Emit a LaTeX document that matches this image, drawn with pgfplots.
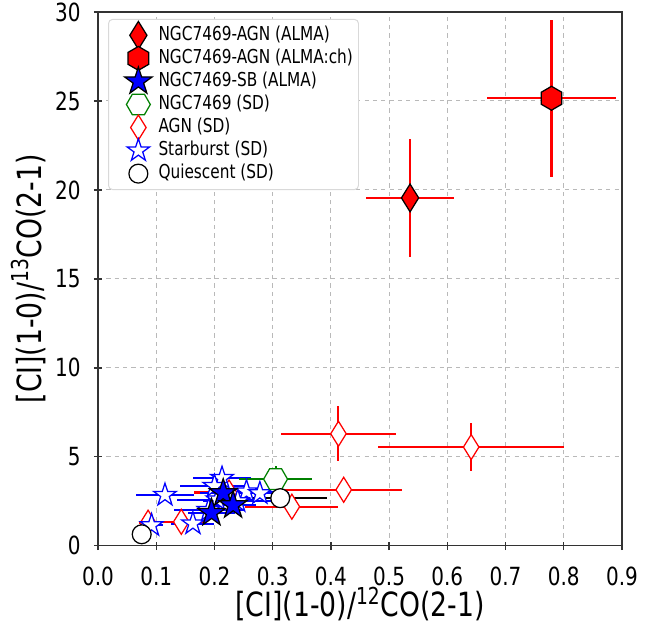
\documentclass[border=0pt]{standalone}
\usepackage{fontspec}
\setmainfont{DejaVu Sans}[FakeStretch=0.8]
\usepackage{pgfplots}
\pgfplotsset{compat=1.18}
\usepackage{pgfplotstable}
\definecolor{mgreen}{rgb}{0,0.5,0}

\pgfdeclareplotmark{hexv}{%
  \pgfpathmoveto{\pgfpointpolar{90}{\pgfplotmarksize}}%
  \pgfpathlineto{\pgfpointpolar{150}{\pgfplotmarksize}}%
  \pgfpathlineto{\pgfpointpolar{210}{\pgfplotmarksize}}%
  \pgfpathlineto{\pgfpointpolar{270}{\pgfplotmarksize}}%
  \pgfpathlineto{\pgfpointpolar{330}{\pgfplotmarksize}}%
  \pgfpathlineto{\pgfpointpolar{30}{\pgfplotmarksize}}%
  \pgfpathclose\pgfusepathqfillstroke}
\pgfdeclareplotmark{hexh}{%
  \pgfpathmoveto{\pgfpointpolar{0}{\pgfplotmarksize}}%
  \pgfpathlineto{\pgfpointpolar{60}{\pgfplotmarksize}}%
  \pgfpathlineto{\pgfpointpolar{120}{\pgfplotmarksize}}%
  \pgfpathlineto{\pgfpointpolar{180}{\pgfplotmarksize}}%
  \pgfpathlineto{\pgfpointpolar{240}{\pgfplotmarksize}}%
  \pgfpathlineto{\pgfpointpolar{300}{\pgfplotmarksize}}%
  \pgfpathclose\pgfusepathqfillstroke}
\pgfdeclareplotmark{fstar}{%
  \pgfpathmoveto{\pgfpointpolar{90}{\pgfplotmarksize}}%
  \pgfpathlineto{\pgfpointpolar{126}{0.382\pgfplotmarksize}}%
  \pgfpathlineto{\pgfpointpolar{162}{\pgfplotmarksize}}%
  \pgfpathlineto{\pgfpointpolar{198}{0.382\pgfplotmarksize}}%
  \pgfpathlineto{\pgfpointpolar{234}{\pgfplotmarksize}}%
  \pgfpathlineto{\pgfpointpolar{270}{0.382\pgfplotmarksize}}%
  \pgfpathlineto{\pgfpointpolar{306}{\pgfplotmarksize}}%
  \pgfpathlineto{\pgfpointpolar{342}{0.382\pgfplotmarksize}}%
  \pgfpathlineto{\pgfpointpolar{18}{\pgfplotmarksize}}%
  \pgfpathlineto{\pgfpointpolar{54}{0.382\pgfplotmarksize}}%
  \pgfpathclose\pgfusepathqfillstroke}
\pgfdeclareplotmark{tdiamond}{%
  \pgfpathmoveto{\pgfqpoint{0pt}{\pgfplotmarksize}}%
  \pgfpathlineto{\pgfqpoint{0.62\pgfplotmarksize}{0pt}}%
  \pgfpathlineto{\pgfqpoint{0pt}{-\pgfplotmarksize}}%
  \pgfpathlineto{\pgfqpoint{-0.62\pgfplotmarksize}{0pt}}%
  \pgfpathclose\pgfusepathqfillstroke}

\pgfplotsset{
  xerr/.style={forget plot, only marks, mark=none,
    error bars/.cd, x dir=both, x explicit, error mark=none,
    error bar style={#1, line width=1.5pt, solid}},
  yerr/.style={forget plot, only marks, mark=none,
    error bars/.cd, y dir=both, y explicit, error mark=none,
    error bar style={#1, line width=1.5pt, solid}},
}

% x y ex ey
\pgfplotstableread{
x y ex ey
0.536 19.55 0.075 3.30
}\agnalma
\pgfplotstableread{
x y ex ey
0.779 25.15 0.110 4.42
}\agnalmach
\pgfplotstableread{
x y ex ey
0.215 2.96 0.040 0.30
0.232 2.28 0.040 0.30
0.195 1.85 0.040 0.30
}\sbalma
\pgfplotstableread{
x y ex ey
0.305 3.75 0.063 0.75
}\ngcsd
\pgfplotstableread{
x y ex ey
0.413 6.30 0.099 1.55
0.641 5.55 0.160 1.37
0.422 3.15 0.100 0.30
0.333 2.20 0.080 0.30
0.143 1.35 0.040 0.20
0.086 1.30 0.015 0.20
0.225 3.00 0.060 0.30
}\agnsd
\pgfplotstableread{
x y ex ey
0.115 2.85 0.049 0.20
0.163 1.25 0.037 0.20
0.092 1.15 0.020 0.20
0.213 3.80 0.050 0.40
0.255 3.05 0.060 0.20
0.278 2.95 0.050 0.20
0.205 2.60 0.070 0.20
0.200 3.35 0.060 0.20
0.240 2.50 0.060 0.20
0.190 2.00 0.060 0.20
}\sbsd
\pgfplotstableread{
x y ex ey
0.075 0.65 0.000 0.00
0.313 2.68 0.080 0.20
}\qsd

\begin{document}
\begin{tikzpicture}
\begin{axis}[
  name=ax,
  scale only axis,
  width=377.3pt, height=384.5pt,
  xmin=0, xmax=0.9, ymin=0, ymax=30,
  xtick={0,0.1,0.2,0.3,0.4,0.5,0.6,0.7,0.8,0.9},
  ytick={0,5,10,15,20,25,30},
  xticklabel style={/pgf/number format/.cd, fixed, fixed zerofill, precision=1},
  /pgf/number format/assume math mode=true,
  ticklabel style={font=\fontsize{18}{20}\selectfont},
  xticklabel shift=8.6pt,
  yticklabel shift=6pt,
  grid=major,
  grid style={dashed, gray!55, line width=0.6pt},
  axis line style={black!80, line width=0.9pt},
  tick style={black!80, line width=0.9pt},
  tick align=center,
  major tick length=6pt,
  tick pos=left,
  xlabel={[CI](1-0)/\textsuperscript{12}CO(2-1)},
  ylabel={[CI](1-0)/\textsuperscript{13}CO(2-1)},
  label style={font=\fontsize{24}{28}\selectfont},
  xlabel style={yshift=6pt},
  legend image code/.code={%
    \pgfpathrectangle{\pgfqpoint{-12pt}{-5pt}}{\pgfqpoint{24pt}{10pt}}\pgfusepath{use as bounding box}%
    \draw[#1, overlay] plot coordinates {(5.5pt,0pt)};},
  legend cell align=left,
  legend style={at={(0,1)}, anchor=north west, xshift=7.2pt, yshift=-5pt,
    draw=black!15, rounded corners=3pt, fill=white, line width=0.7pt,
    font=\fontsize{13.8}{16}\selectfont, row sep=3.6pt, inner xsep=4pt, inner ysep=5pt,
    nodes={inner sep=0pt, text height=10pt, text depth=3pt},
    /tikz/every odd column/.append style={column sep=8pt}},
]
% legend entries
\addlegendimage{only marks, mark=tdiamond, mark size=10pt, fill=red, draw=black, line width=0.9pt}
\addlegendentry{NGC7469-AGN (ALMA)}
\addlegendimage{only marks, mark=hexv, mark size=8.6pt, fill=red, draw=black, line width=0.9pt}
\addlegendentry{NGC7469-AGN (ALMA:ch)}
\addlegendimage{only marks, mark=fstar, mark size=10.4pt, fill=blue, draw=black, line width=0.9pt}
\addlegendentry{NGC7469-SB (ALMA)}
\addlegendimage{only marks, mark=hexh, mark size=8.6pt, fill=white, draw=mgreen, line width=0.9pt}
\addlegendentry{NGC7469 (SD)}
\addlegendimage{only marks, mark=tdiamond, mark size=9pt, fill=white, draw=red, line width=0.9pt}
\addlegendentry{AGN (SD)}
\addlegendimage{only marks, mark=fstar, mark size=8.6pt, fill=white, draw=blue, line width=0.9pt}
\addlegendentry{Starburst (SD)}
\addlegendimage{only marks, mark=*, mark size=6.8pt, fill=white, draw=black, line width=0.9pt}
\addlegendentry{Quiescent (SD)}

% AGN (SD)
\addplot[xerr=red] table[x=x, y=y, x error=ex]{\agnsd};
\addplot[yerr=red] table[x=x, y=y, y error=ey]{\agnsd};
\addplot[forget plot, only marks, mark=tdiamond, mark size=9pt, fill=white, draw=red, line width=0.9pt] table[x=x, y=y]{\agnsd};
% Starburst (SD)
\addplot[xerr=blue] table[x=x, y=y, x error=ex]{\sbsd};
\addplot[yerr=blue] table[x=x, y=y, y error=ey]{\sbsd};
\addplot[forget plot, only marks, mark=fstar, mark size=8.6pt, fill=white, draw=blue, line width=0.9pt] table[x=x, y=y]{\sbsd};
% NGC7469 (SD)
\addplot[xerr=mgreen] table[x=x, y=y, x error=ex]{\ngcsd};
\addplot[yerr=mgreen] table[x=x, y=y, y error=ey]{\ngcsd};
\addplot[forget plot, only marks, mark=hexh, mark size=8.6pt, fill=white, draw=mgreen, line width=0.9pt] table[x=x, y=y]{\ngcsd};
% Quiescent (SD)
\addplot[xerr=black] table[x=x, y=y, x error=ex]{\qsd};
\addplot[forget plot, only marks, mark=*, mark size=6.8pt, fill=white, draw=black, line width=0.9pt] table[x=x, y=y]{\qsd};
% NGC7469-SB (ALMA)
\addplot[xerr=blue] table[x=x, y=y, x error=ex]{\sbalma};
\addplot[yerr=blue] table[x=x, y=y, y error=ey]{\sbalma};
\addplot[forget plot, only marks, mark=fstar, mark size=10.4pt, fill=blue, draw=black, line width=0.9pt] table[x=x, y=y]{\sbalma};
% NGC7469-AGN (ALMA)
\addplot[xerr=red] table[x=x, y=y, x error=ex]{\agnalma};
\addplot[yerr=red] table[x=x, y=y, y error=ey]{\agnalma};
\addplot[forget plot, only marks, mark=tdiamond, mark size=10pt, fill=red, draw=black, line width=0.9pt] table[x=x, y=y]{\agnalma};
% NGC7469-AGN (ALMA:ch)
\addplot[xerr=red] table[x=x, y=y, x error=ex]{\agnalmach};
\addplot[yerr=red] table[x=x, y=y, y error=ey]{\agnalmach};
\addplot[forget plot, only marks, mark=hexv, mark size=8.6pt, fill=red, draw=black, line width=0.9pt] table[x=x, y=y]{\agnalmach};
\end{axis}
\pgfresetboundingbox
\path[use as bounding box] ([xshift=-70.6pt,yshift=-57.6pt]ax.south west) rectangle ([xshift=31pt,yshift=8.6pt]ax.north east);
\end{tikzpicture}
\end{document}
